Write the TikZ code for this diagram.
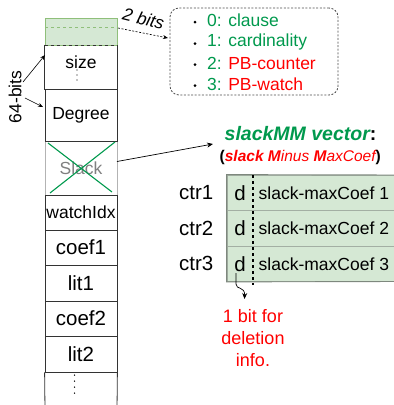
\documentclass[tikz,border=0pt]{standalone}
\usepackage{fontspec}
\setmainfont{Liberation Sans}
\usetikzlibrary{arrows.meta}
\definecolor{dgreen}{RGB}{0,153,77}
\definecolor{lgfill}{HTML}{D5E8D4}
\definecolor{lgline}{HTML}{8FBF7A}
\definecolor{cellline}{HTML}{333333}
\definecolor{tabline}{HTML}{7E887E}
\definecolor{tabsep}{HTML}{A3AFA3}
\definecolor{slackgray}{HTML}{808080}
\definecolor{xred}{RGB}{255,0,0}
\begin{document}
\begin{tikzpicture}[x=1pt,y=-1pt,
  cell/.style={draw=cellline, line width=0.8pt, minimum width=72pt, inner sep=0pt},
  t17/.style={font=\fontsize{17.5}{21}\selectfont, inner sep=0pt},
  t20/.style={font=\fontsize{20.5}{24}\selectfont, inner sep=0pt},
  trow/.style={fill=lgfill, draw=tabsep, line width=0.8pt, minimum width=173pt, minimum height=35.5pt, inner sep=0pt},
  arr/.style={-{Stealth[length=6pt,width=5pt]}, line width=0.7pt},
  bul/.style={circle, fill=black, inner sep=0pt, minimum size=3pt}
]
\useasboundingbox (0,0) rectangle (394,405);

% ---------- left column ----------
\node[cell, draw=slackgray!60, minimum height=54pt] (slack) at (81,168) {};
\node[cell, minimum height=44pt, draw=none] (size) at (81,67) {};
\draw[cellline, line width=0.8pt] (size.north west) -- (size.south west) -- (size.south east) -- (size.north east);
\node[cell, minimum height=52pt] (degree) at (81,115) {};
\node[cell, minimum height=35pt] (watch) at (81,212.5) {};
\node[cell, minimum height=35pt] (coef1) at (81,247.5) {};
\node[cell, minimum height=36pt] (lit1) at (81,283) {};
\node[cell, minimum height=35pt] (coef2) at (81,318.5) {};
\node[cell, minimum height=36pt] (lit2) at (81,354) {};
\draw[cellline, line width=0.8pt] (lit2.south west) -- (45,410);
\draw[cellline, line width=0.8pt] (lit2.south east) -- (117,410);
% header (2 bits)
\node[fill=lgfill, draw=lgline, line width=0.8pt, minimum width=72pt, minimum height=27pt, inner sep=0pt] (hdr) at (81,31.5) {};
\draw[lgline, dashed, line width=0.8pt] (45,27) -- (117,27);
\draw[cellline, dashed, line width=0.9pt] (hdr.south west) -- (hdr.south east);

% texts in column
\node[t17] (sizet) at (81,62) {size};
\foreach \yy in {70,75,80} \fill (77,\yy) circle (0.6);
\node[t17] (degt) at (81,115) {Degree};
\node[t17, text=slackgray] (slackt) at (81,168) {Slack};
\draw[dgreen, line width=1.1pt] (48,143) -- (112,192);
\draw[dgreen, line width=1.1pt] (115,142) -- (50,193);
\node[t17] (watcht) at (81,212.5) {watchIdx};
\node[t20] (coef1t) at (81,247.5) {coef1};
\node[t20] (lit1t) at (81,283) {lit1};
\node[t20] (coef2t) at (81,318.5) {coef2};
\node[t20] (lit2t) at (81,354) {lit2};
\foreach \yy in {375,381,387,393} \fill (74.5,\yy) circle (0.75);

% 64-bits
\node[t17, rotate=90] (bits64) at (15,97) {64-bits};
\coordinate (a64a) at (23,82);
\coordinate (a64b) at (25,98);
\coordinate (sizein) at (45,55);
\coordinate (degin) at (43,107);
\draw[-{Stealth[length=5pt,width=4pt]}, line width=0.6pt] (a64a) -- (sizein);
\draw[-{Stealth[length=5pt,width=4pt]}, line width=0.6pt] (a64b) -- (degin);

% 2 bits
\node[t17, font=\fontsize{17.5}{21}\selectfont\itshape, rotate=-14] (twobits) at (143.5,18.5) {2 bits};
\node[draw=black!70, dash pattern=on 2pt off 1.6pt, line width=0.8pt, rounded corners=9pt,
      minimum width=168pt, minimum height=87pt] (types) at (254,51.5) {};
\coordinate (hdrout) at (118,28);
\coordinate (typesin) at (168,38);
\draw[-{Stealth[length=5pt,width=4pt]}, dash pattern=on 2pt off 1.6pt, line width=0.6pt] (hdrout) -- (typesin);
\foreach \yy/\nm in {22/b0,43.5/b1,64.5/b2,85.5/b3}
  \node[bul] (\nm) at (195,\yy) {};
\node[t17, anchor=west, text=dgreen] (l0) at (207,20) {0: clause};
\node[t17, anchor=west, text=dgreen] (l1) at (207,42) {1: cardinality};
\node[t17, anchor=west] (l2) at (207,63) {\color{dgreen}2: \color{xred}PB-counter};
\node[t17, anchor=west] (l3) at (207,84) {\color{dgreen}3: \color{xred}PB-watch};

% ---------- slackMM vector ----------
\node[font=\fontsize{19.5}{23}\selectfont\bfseries\itshape, anchor=west, inner sep=0pt] (title) at (224.5,134)
  {\color{dgreen}slackMM vector\color{black}\upshape:};
\node[font=\fontsize{15.5}{18}\selectfont, anchor=west, inner sep=0pt] (subtitle) at (219.5,157)
  {\textbf{(}{\color{xred}\bfseries\itshape slack M}{\color{xred}\itshape inus }{\color{xred}\bfseries\itshape M}{\color{xred}\itshape axCoef}\textbf{)}};
\coordinate (slackout) at (117,161.5);
\coordinate (titlein) at (213,144);
\draw[arr] (slackout) -- (titlein);

% table
\node[trow] (r1) at (313.5,192.75) {};
\node[trow] (r2) at (313.5,228.25) {};
\node[trow] (r3) at (313.5,263.75) {};
\draw[tabline, line width=0.9pt] (400,175) -- (r1.north west) -- (r3.south west) -- (400,281.5);
\draw[black, dashed, line width=1.1pt] (253,175) -- (253,285);
\node[t20, anchor=east] (c1) at (213.5,192.75) {ctr1};
\node[t20, anchor=east] (c2) at (213.5,228.25) {ctr2};
\node[t20, anchor=east] (c3) at (213.5,263.75) {ctr3};
\node[t20] (d1) at (240,192.75) {d};
\node[t20] (d2) at (240,228.25) {d};
\node[t20] (d3) at (240,263.75) {d};
\node[t17, anchor=west] (s1) at (258.5,192.75) {slack-maxCoef 1};
\node[t17, anchor=west] (s2) at (258.5,228.25) {slack-maxCoef 2};
\node[t17, anchor=west] (s3) at (258.5,263.75) {slack-maxCoef 3};

% deletion bit
\node[font=\fontsize{18}{22}\selectfont, text=xred, align=center, inner sep=0pt] (delinfo) at (253,338) {1 bit for\\deletion\\info.};
\coordinate (dstart) at (236,273);
\coordinate (dend) at (244.5,299);
\draw[-{Stealth[length=6pt,width=5pt]}, line width=0.7pt] (dstart) -- (236,284) .. controls (236,290) and (245,286) .. (dend);
\end{tikzpicture}
\end{document}
